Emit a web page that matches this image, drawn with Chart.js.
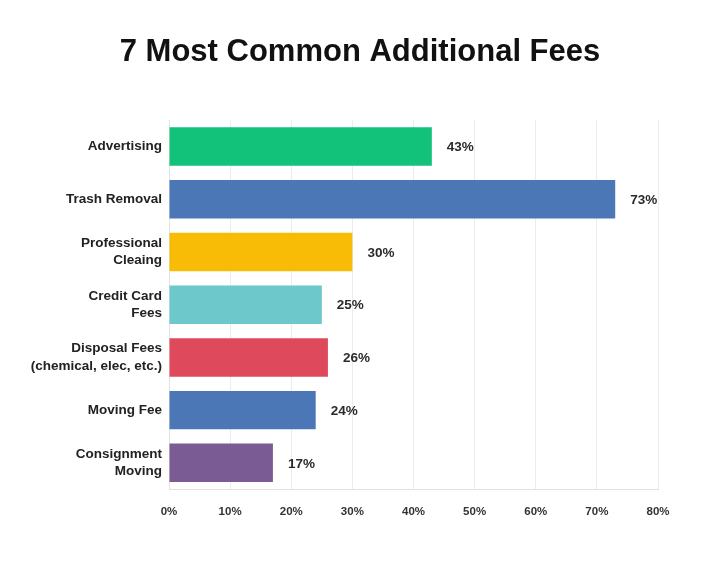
<!DOCTYPE html>
<html>
<head>
<meta charset="utf-8">
<script src="https://cdn.jsdelivr.net/npm/chart.js@4/dist/chart.umd.min.js"></script>
<style>
	html, body { margin: 0; padding: 0; background: #fff; }
	#wrap { width: 720px; height: 585px; }
</style>
</head>
<body>
<div id="wrap"><canvas id="feesChart" width="720" height="585"></canvas></div>
<script>
// Datos del grafico
var cateList = [
	'Advertising',
	'Trash Removal',
	['Professional', 'Cleaing'],
	['Credit Card', 'Fees'],
	['Disposal Fees', '(chemical, elec, etc.)'],
	'Moving Fee',
	['Consignment', 'Moving']
];
var pctList = [43, 73, 30, 25, 26, 24, 17];
var colrList = ['#12c27a', '#4b77b6', '#f9bc06', '#6dc8cb', '#de4a5b', '#4b77b6', '#7b5b93'];
var tickList = [0, 10, 20, 30, 40, 50, 60, 70, 80];

var fontFam = '"Liberation Sans", Arial, sans-serif';

//Plugin que pinta el porcentaje al final de cada barra
var valuLabels = {
	id: 'valuLabels',
	afterDatasetsDraw: function(chart) {
		var ctx = chart.ctx;
		var meta = chart.getDatasetMeta(0);
		ctx.save();
		ctx.font = 'bold 13.5px ' + fontFam;
		ctx.fillStyle = '#2b2b2b';
		ctx.textAlign = 'left';
		ctx.textBaseline = 'middle';
		for (var i = 0; i < meta.data.length; i++) {
			var bar = meta.data[i];
			ctx.fillText(pctList[i] + '%', bar.x + 15, bar.y + 1);
		}
		ctx.restore();
	}
};

var ctx = document.getElementById('feesChart').getContext('2d');
var chart = new Chart(ctx, {
	type: 'bar',
	data: {
		labels: cateList,
		datasets: [{
			data: pctList,
			backgroundColor: colrList,
			borderWidth: 0,
			categoryPercentage: 1,
			barPercentage: 0.73
		}]
	},
	options: {
		indexAxis: 'y',
		responsive: false,
		animation: false,
		layout: { padding: { left: 0, right: 0, top: 0, bottom: 50 } },
		plugins: {
			legend: { display: false },
			tooltip: { enabled: false },
			title: {
				display: true,
				text: '7 Most Common Additional Fees',
				color: '#111',
				font: { family: fontFam, size: 31, weight: 'bold' },
				padding: { top: 34, bottom: 49 }
			}
		},
		scales: {
			x: {
				min: 0,
				max: 80,
				afterBuildTicks: function(axis) {
					axis.ticks = tickList.map(function(v) { return { value: v }; });
				},
				grid: { color: '#ececec', drawTicks: false },
				border: { color: '#e2e2e2' },
				ticks: {
					padding: 16,
					color: '#333',
					font: { family: fontFam, size: 11.5, weight: 'bold' },
					callback: function(v) { return v + '%'; }
				}
			},
			y: {
				afterFit: function(axis) { axis.width = 169; },
				grid: { display: false, drawTicks: false },
				border: { color: '#e2e2e2' },
				ticks: {
					padding: 7,
					color: '#222',
					font: { family: fontFam, size: 13.5, weight: 'bold', lineHeight: 1.3 }
				}
			},
			//Eje vacio a la derecha para reservar el margen sin descentrar el titulo
			yr: {
				position: 'right',
				display: true,
				afterFit: function(axis) { axis.width = 62; },
				grid: { display: false, drawTicks: false },
				border: { display: false },
				ticks: { display: false }
			}
		}
	},
	plugins: [valuLabels]
});
</script>
</body>
</html>
